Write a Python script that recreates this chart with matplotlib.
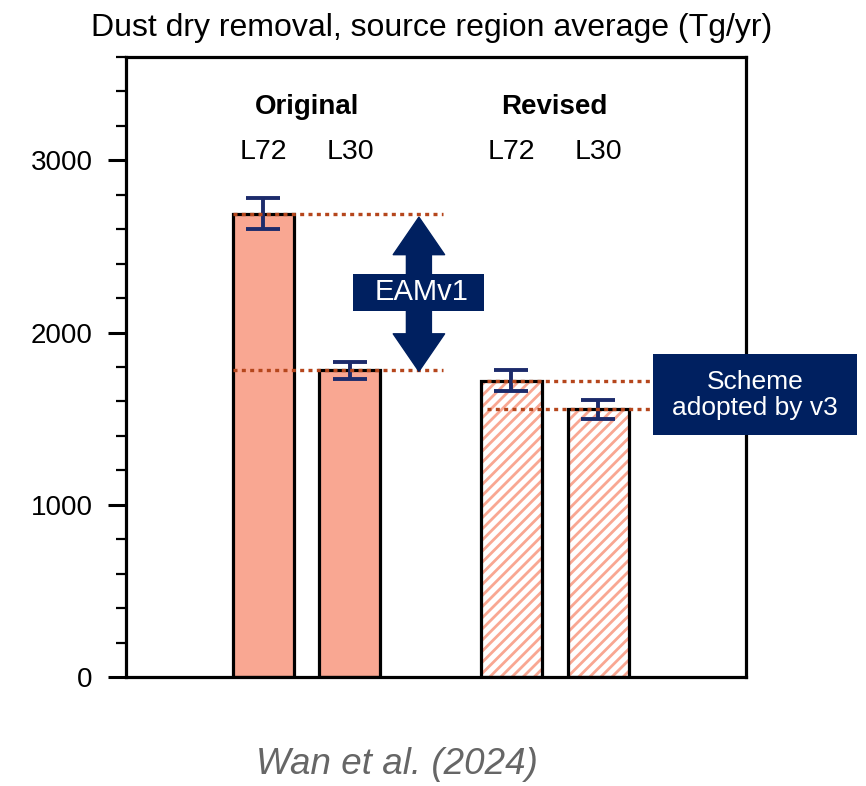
import numpy as np
import matplotlib
matplotlib.use("Agg")
import matplotlib.pyplot as plt
from matplotlib.patches import Rectangle

plt.rcParams['font.family'] = ['Liberation Sans', 'DejaVu Sans']
plt.rcParams['hatch.linewidth'] = 2.0

# data (Tg/yr)
groups = ["Original", "Revised"]
levels = ["L72", "L30", "L72", "L30"]
removal = [2690, 1780, 1720, 1555]
removal_err = [90, 50, 60, 55]
hatched = [False, False, True, True]
x_pos = [2.25, 3.67, 6.31, 7.74]

bar_color = '#f9a792'
navy = '#002060'
err_color = '#1c2b6b'
dot_color = '#b5461c'

fig = plt.figure(figsize=(8.66, 7.86), dpi=100)
ax = fig.add_axes([126/866, 1 - 677/786, 620/866, 620/786])
ax.set_xlim(0, 10.16)
ax.set_ylim(0, 3600)

for x, v, h in zip(x_pos, removal, hatched):
    if h:
        ax.bar(x, v, width=1.0, color='white', edgecolor=bar_color, hatch='///', linewidth=0, zorder=2)
        ax.bar(x, v, width=1.0, fill=False, edgecolor='black', linewidth=2.3, zorder=3)
    else:
        ax.bar(x, v, width=1.0, color=bar_color, edgecolor='black', linewidth=2.3, zorder=3)

ax.errorbar(x_pos, removal, yerr=removal_err, fmt='none', ecolor=err_color,
            elinewidth=2.8, capsize=12.5, capthick=2.8, zorder=5)

# dotted reference lines
dots = dict(color=dot_color, linewidth=2.4, linestyle=(0, (1.2, 1.3)), zorder=6, clip_on=False)
ax.plot([x_pos[0] - 0.5, 5.2], [removal[0]] * 2, **dots)
ax.plot([x_pos[0] - 0.5, 5.2], [removal[1]] * 2, **dots)
ax.plot([x_pos[2] - 0.4, 10.2], [removal[2]] * 2, **dots)
ax.plot([x_pos[2] - 0.4, 10.2], [removal[3]] * 2, **dots)

# EAMv1 double arrow
ax_x = 4.8
mid = (removal[0] + removal[1]) / 2
arrow = dict(arrowstyle='simple,head_width=1.85,head_length=1.35,tail_width=0.9',
             color=navy, shrinkA=0, shrinkB=0, mutation_scale=20)
ax.annotate('', xy=(ax_x, removal[0] - 20), xytext=(ax_x, mid), arrowprops=arrow, zorder=7)
ax.annotate('', xy=(ax_x, removal[1] - 5), xytext=(ax_x, mid), arrowprops=arrow, zorder=7)
bw, bh = 131/620, 37/620
bx = ax_x / 10.16
by = mid / 3600
ax.add_patch(Rectangle((bx - bw/2, by - bh/2), bw, bh, transform=ax.transAxes,
                       facecolor=navy, edgecolor='none', zorder=8))
ax.text(bx + 0.005, by, 'EAMv1', transform=ax.transAxes, ha='center', va='center',
        color='white', fontsize=21, zorder=9)

# scheme box
mid2 = (removal[2] + removal[3]) / 2
sw, sh = 204/620, 81/620
sx = (755 - 126) / 620
sy = mid2 / 3600
ax.add_patch(Rectangle((sx - sw/2, sy - sh/2), sw, sh, transform=ax.transAxes,
                       facecolor=navy, edgecolor='none', zorder=8, clip_on=False))
ax.text(sx, sy, 'Scheme\nadopted by v3', transform=ax.transAxes, ha='center', va='center',
        color='white', fontsize=19, linespacing=1.1, zorder=9, clip_on=False)

# group and level labels
for i, g in enumerate(groups):
    gx = (x_pos[2*i] + x_pos[2*i + 1]) / 2
    ax.text(gx, 0.919, g, transform=ax.get_xaxis_transform(), ha='center', va='center',
            fontsize=20, fontweight='bold')
for x, lv in zip(x_pos, levels):
    ax.text(x, 0.846, lv, transform=ax.get_xaxis_transform(), ha='center', va='center',
            fontsize=20.5)

ax.set_xticks([])
ax.set_yticks([0, 1000, 2000, 3000])
ax.set_yticks(np.arange(0, 3601, 200), minor=True)
ax.tick_params(axis='y', which='major', direction='out', length=13, width=2.2,
               labelsize=20, pad=11)
ax.tick_params(axis='y', which='minor', direction='out', length=7, width=1.6)
for s in ax.spines.values():
    s.set_linewidth(2.3)
    s.set_zorder(4)

fig.text(432/866, 1 - 28/786, 'Dust dry removal, source region average (Tg/yr)',
         ha='center', va='center', fontsize=23)
fig.text(397/866, 1 - 765/786, 'Wan et al. (2024)', ha='center', va='center',
         fontsize=26.5, style='italic', color='#666666')

fig.savefig('out.png', dpi=100)
